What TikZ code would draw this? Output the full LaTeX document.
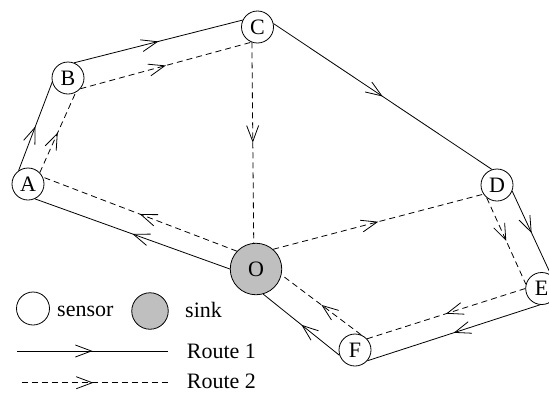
\documentclass[tikz,border=0pt]{standalone}
\usepackage{fontspec}
\setmainfont{Liberation Serif}
\usetikzlibrary{arrows.meta,decorations.markings}
\begin{document}
\begin{tikzpicture}[x=1pt,y=-1pt,
  every node/.style={font=\fontsize{22}{26}\selectfont},
  sensor/.style={circle,draw,line width=0.8pt,minimum size=32pt,inner sep=0pt},
  sinknode/.style={sensor,fill=black!25,minimum size=51.5pt},
  lbl/.style={anchor=base west,inner sep=0pt},
  route/.style={line width=0.8pt},
  r2/.style={route,dash pattern=on 6pt off 4pt},
  midarrow/.style={postaction={decorate},decoration={markings,mark=at position #1 with {\arrow{Straight Barb[length=16pt,width=12pt]}}}},
  midarrow/.default=0.5]
\clip (0,0) rectangle (549,392);
% nodes
\node[sensor] (A) at (28,184) {A};
\node[sensor] (B) at (68,78) {B};
\node[sensor] (C) at (257.5,27) {C};
\node[sensor] (D) at (497,185) {D};
\node[sensor] (E) at (541.7,288.5) {E};
\node[sensor] (F) at (355,350) {F};
\node[sinknode] (O) at (256,269) {O};
% route 1
\draw[route,midarrow] (A.125) -- (B.195);
\draw[route,midarrow] (B.68) -- (C.155);
\draw[route,midarrow] (C.12) -- (D.108);
\draw[route,midarrow] (D.-22) -- (E.55);
\draw[route,midarrow] (E.264) -- (F.-41);
\draw[route,midarrow] (F.199) -- (O.-74);
\draw[route,midarrow] (O.180) -- (A.-65);
% route 2
\draw[r2,midarrow] (A.44) -- (B.-62);
\draw[r2,midarrow] (B.-41) -- (C.248);
\draw[r2,midarrow] (C.250) -- (O.95);
\draw[r2,midarrow] (O.137) -- (A.25);
\draw[r2,midarrow] (O.49) -- (D.214);
\draw[r2,midarrow] (D.231) -- (E.165);
\draw[r2,midarrow] (E.180) -- (F.43);
\draw[r2,midarrow] (F.68) -- (O.-13);
% legend
\node[sensor,minimum size=33pt] (ls) at (33,308.5) {};
\node[lbl] (lst) at (57,316) {sensor};
\node[sinknode,minimum size=36.5pt] (lk) at (150,311) {};
\node[lbl] (lkt) at (185,317) {sink};
\coordinate (r1a) at (17,351);
\coordinate (r1b) at (168,351);
\draw[route,midarrow] (r1a) -- (r1b);
\node[lbl] (r1t) at (186.7,358) {Route 1};
\coordinate (r2a) at (21.7,382.7);
\coordinate (r2b) at (168,382.7);
\draw[r2,midarrow=0.49] (r2a) -- (r2b);
\node[lbl] (r2t) at (186.7,388.5) {Route 2};
\end{tikzpicture}
\end{document}
